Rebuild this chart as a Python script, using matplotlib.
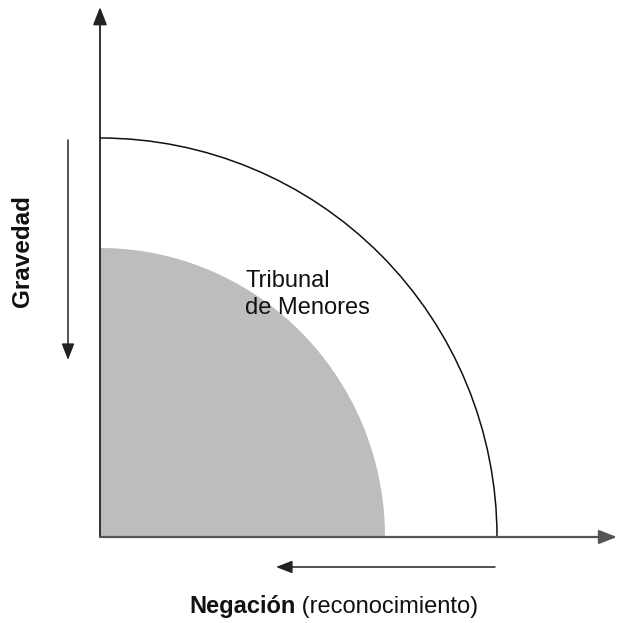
import numpy as np
import matplotlib.pyplot as plt
from matplotlib.patches import Arc

plt.rcParams['font.family'] = ['Liberation Sans', 'DejaVu Sans']

# radios de los cuartos de elipse (x, y)
outer_radius = (397, 399)
inner_radius = (285, 289)
region_label = 'Tribunal\nde Menores'
x_label_bold = 'Negación'
x_label_rest = ' (reconocimiento)'
y_label = 'Gravedad'

fig = plt.figure(figsize=(6.19, 6.23), dpi=100)
ax = fig.add_axes([0, 0, 1, 1])
ax.set_xlim(-100, 519)
ax.set_ylim(-86, 537)
ax.axis('off')

# zona gris interior
t = np.linspace(0, np.pi / 2, 200)
xs = np.concatenate([[0], inner_radius[0] * np.cos(t), [0]])
ys = np.concatenate([[0], inner_radius[1] * np.sin(t), [0]])
ax.fill(xs, ys, color='#bdbdbd', lw=0, zorder=1)

# arco exterior
ax.add_patch(Arc((0, 0), 2 * outer_radius[0], 2 * outer_radius[1],
                 theta1=0, theta2=90, color='#111111', lw=1.1, zorder=2))

head = '-|>,head_width=0.35,head_length=0.9'

# ejes con flechas
ax.annotate('', xy=(0, 530), xytext=(0, 0),
            arrowprops=dict(arrowstyle=head, color='#222222', lw=1.3,
                            mutation_scale=12, shrinkA=0, shrinkB=0), zorder=3)
ax.annotate('', xy=(517, 0), xytext=(0, 0),
            arrowprops=dict(arrowstyle=head, color='#555555', lw=1.6,
                            mutation_scale=12, shrinkA=0, shrinkB=0), zorder=3)

# flechas de dirección
ax.annotate('', xy=(-32, 177), xytext=(-32, 397),
            arrowprops=dict(arrowstyle=head, color='#222222', lw=1.1,
                            mutation_scale=11, shrinkA=0, shrinkB=0))
ax.annotate('', xy=(176, -30), xytext=(395, -30),
            arrowprops=dict(arrowstyle=head, color='#222222', lw=1.1,
                            mutation_scale=11, shrinkA=0, shrinkB=0))

# textos
ax.text(145, 267, region_label, fontsize=17, ha='left', va='top',
        linespacing=1.3, color='#111111')
ax.text(-77, 286, y_label, fontsize=17.5, fontweight='bold', rotation=90,
        ha='center', va='center', color='#111111')

t1 = ax.text(89, -76, x_label_bold, fontsize=17, fontweight='bold',
             ha='left', va='baseline', color='#111111')
fig.canvas.draw()
bb = t1.get_window_extent()
x_end = ax.transData.inverted().transform((bb.x1, bb.y0))[0]
ax.text(x_end, -76, x_label_rest, fontsize=17, ha='left', va='baseline',
        color='#111111')

fig.savefig('out.png', dpi=100, facecolor='white')
